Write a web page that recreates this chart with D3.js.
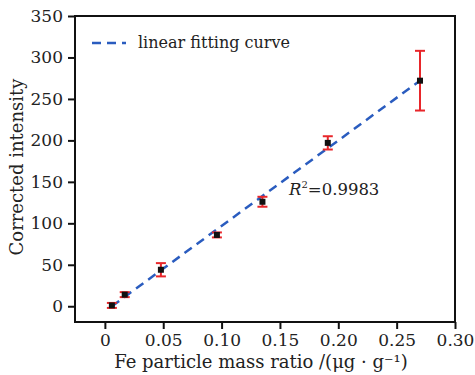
<!DOCTYPE html>
<html>
<head>
<meta charset="utf-8">
<script src="https://cdn.jsdelivr.net/npm/d3@7"></script>
<style>
  body { margin: 0; background: #fff; }
  text { font-family: "DejaVu Serif", serif; fill: #222; }
</style>
</head>
<body>
<div id="chart"></div>
<script>
// data
const massRatio = [0.006, 0.017, 0.048, 0.096, 0.135, 0.191, 0.270];
const intensity = [1, 14, 44, 86, 126, 197, 272];
const errors = [3, 3, 8, 3, 6, 8, 36];
const fitX = [0.006, 0.270];
const fitY = [0, 272];
const xTicks = [0, 0.05, 0.10, 0.15, 0.20, 0.25, 0.30];
const yTicks = [0, 50, 100, 150, 200, 250, 300, 350];

const width = 475, height = 375;
const margin = { left: 75, right: 20, top: 16, bottom: 53 };

const svg = d3.select("#chart").append("svg")
  .attr("width", width)
  .attr("height", height);

const x = d3.scaleLinear().domain([-0.0256, 0.30]).range([margin.left, width - margin.right]);
const y = d3.scaleLinear().domain([-19, 350]).range([height - margin.bottom, margin.top]);

// axes
const xAxis = svg.append("g")
  .attr("transform", `translate(0,${height - margin.bottom})`)
  .call(d3.axisBottom(x).tickValues(xTicks).tickSize(7).tickPadding(6)
    .tickFormat(d => d === 0 ? "0" : d3.format(".2f")(d)));
const yAxis = svg.append("g")
  .attr("transform", `translate(${margin.left},0)`)
  .call(d3.axisLeft(y).tickValues(yTicks).tickSize(7).tickPadding(5));

[xAxis, yAxis].forEach(a => {
  a.select(".domain").remove();
  a.selectAll("line").attr("stroke", "#111").attr("stroke-width", 2);
  a.selectAll("text").attr("font-size", "17px").attr("fill", "#222")
    .attr("font-family", "DejaVu Serif");
});
xAxis.selectAll("text").attr("dy", null).attr("y", 24);

// frame
svg.append("rect")
  .attr("x", margin.left)
  .attr("y", margin.top)
  .attr("width", width - margin.left - margin.right)
  .attr("height", height - margin.top - margin.bottom)
  .attr("fill", "none")
  .attr("stroke", "#111")
  .attr("stroke-width", 2);

// fit line
svg.append("line")
  .attr("x1", x(fitX[0])).attr("y1", y(fitY[0]))
  .attr("x2", x(fitX[1])).attr("y2", y(fitY[1]))
  .attr("stroke", "#2a5cbf")
  .attr("stroke-width", 2.5)
  .attr("stroke-dasharray", "9,6");

const pts = massRatio.map((d, i) => ({ x: d, y: intensity[i], e: errors[i] }));

// error bars
const eb = svg.append("g").attr("stroke", "#e8262a").attr("stroke-width", 2);
pts.forEach(d => {
  eb.append("line").attr("x1", x(d.x)).attr("x2", x(d.x))
    .attr("y1", y(d.y - d.e)).attr("y2", y(d.y + d.e));
  [d.y - d.e, d.y + d.e].forEach(v => {
    eb.append("line").attr("x1", x(d.x) - 5).attr("x2", x(d.x) + 5)
      .attr("y1", y(v)).attr("y2", y(v));
  });
});

// markers
svg.append("g").selectAll("rect")
  .data(pts)
  .join("rect")
  .attr("x", d => x(d.x) - 3)
  .attr("y", d => y(d.y) - 3)
  .attr("width", 6)
  .attr("height", 6)
  .attr("fill", "#111");

// legend
svg.append("line")
  .attr("x1", 92).attr("x2", 126).attr("y1", 43).attr("y2", 43)
  .attr("stroke", "#2a5cbf").attr("stroke-width", 2.5).attr("stroke-dasharray", "9,6");
svg.append("text")
  .attr("x", 138).attr("y", 48)
  .attr("font-size", "16px")
  .text("linear fitting curve");

// R^2 label
const r2 = svg.append("text").attr("x", 289).attr("y", 195).attr("font-size", "16.5px");
r2.append("tspan").attr("font-style", "italic").text("R");
r2.append("tspan").attr("font-size", "10px").attr("dy", -7).text("2");
r2.append("tspan").attr("dy", 7).text("=0.9983");

// axis titles
svg.append("text")
  .attr("x", 261).attr("y", 368)
  .attr("text-anchor", "middle")
  .attr("font-size", "18px")
  .text("Fe particle mass ratio /(μg · g⁻¹)");
svg.append("text")
  .attr("transform", `translate(23,167) rotate(-90)`)
  .attr("text-anchor", "middle")
  .attr("font-size", "18px")
  .text("Corrected intensity");
</script>
</body>
</html>
